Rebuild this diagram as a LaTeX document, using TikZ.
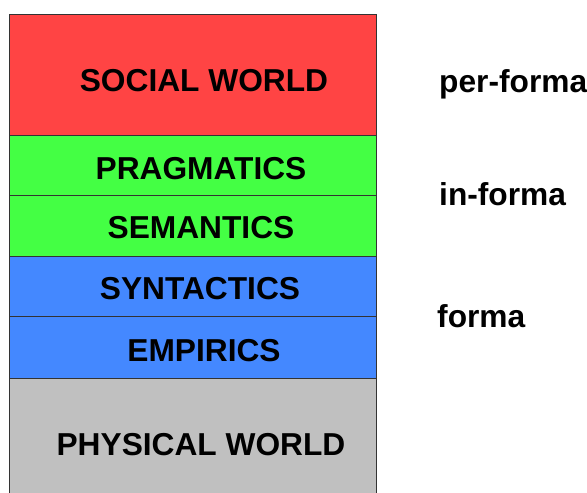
\documentclass[tikz,border=0pt]{standalone}
\usepackage{fontspec}
\setmainfont{Liberation Sans}
\definecolor{socred}{HTML}{FF4444}
\definecolor{laygreen}{HTML}{44FF44}
\definecolor{layblue}{HTML}{4488FF}
\definecolor{laygray}{HTML}{C0C0C0}
\definecolor{edgegray}{HTML}{333333}
\begin{document}
\begin{tikzpicture}[x=1pt,y=-1pt,
  layer/.style={draw=edgegray,line width=0.9pt},
  lbl/.style={anchor=base,inner sep=0pt,font=\fontsize{31.7}{36}\selectfont\bfseries},
  side/.style={anchor=base west,inner sep=0pt,font=\fontsize{31.7}{36}\selectfont\bfseries}]
\useasboundingbox (0,0) rectangle (587,493);
% layers
\fill[laygray] (9,378) rectangle (376,494);
\draw[layer] (9,378) -- (9,494) (376,378) -- (376,494);
\draw[layer,fill=socred] (9,14) rectangle (376,135);
\draw[layer,fill=laygreen] (9,135) rectangle (376,195);
\draw[layer,fill=laygreen] (9,195) rectangle (376,256);
\draw[layer,fill=layblue] (9,256) rectangle (376,316);
\draw[layer,fill=layblue] (9,316) rectangle (376,378);
% labels
\node[lbl] (social) at (204,91.5) {SOCIAL WORLD};
\node[lbl] (prag) at (201,179) {PRAGMATICS};
\node[lbl] (sem) at (201,238) {SEMANTICS};
\node[lbl] (syn) at (200,299) {SYNTACTICS};
\node[lbl] (emp) at (204,361) {EMPIRICS};
\node[lbl] (phys) at (201,455) {PHYSICAL WORLD};
% side labels
\node[side] (per) at (439,92) {per-forma};
\node[side] (in) at (439,205) {in-forma};
\node[side] (forma) at (437,327) {forma};
\end{tikzpicture}
\end{document}
